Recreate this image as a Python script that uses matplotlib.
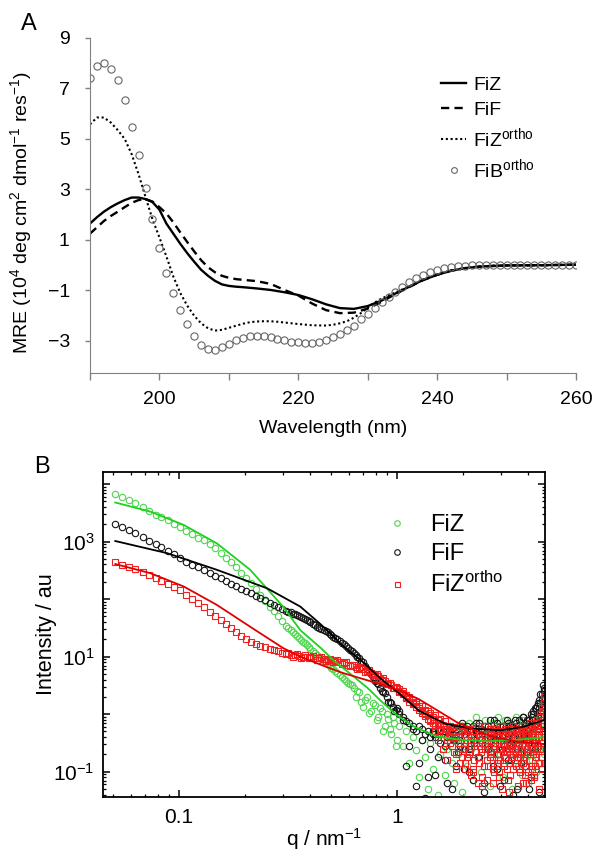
import numpy as np
import matplotlib
matplotlib.use("Agg")
import matplotlib.pyplot as plt
from matplotlib.lines import Line2D
from matplotlib.ticker import LogLocator, NullFormatter

plt.rcParams['font.family'] = ['Liberation Sans', 'DejaVu Sans']
plt.rcParams['mathtext.fontset'] = 'custom'
plt.rcParams['mathtext.rm'] = 'Liberation Sans'
plt.rcParams['mathtext.it'] = 'Liberation Sans:italic'
plt.rcParams['mathtext.bf'] = 'Liberation Sans:bold'

# ---------------- panel A : CD spectra (MRE, 10^4 deg cm2 dmol-1 res-1) ----------------
fiz_wl = [190, 191, 192, 193, 194, 195, 196, 197, 198, 199, 200, 201, 202, 203, 204, 205,
          206, 207, 208, 209, 210, 211, 212, 214, 216, 218, 220, 222, 224, 226, 228, 230,
          232, 234, 236, 238, 240, 242, 244, 246, 248, 250, 255, 260]
fiz_mre = [1.65, 1.90, 2.12, 2.30, 2.45, 2.58, 2.68, 2.68, 2.62, 2.50, 2.20, 1.65, 1.25, 0.85,
           0.48, 0.14, -0.18, -0.42, -0.62, -0.76, -0.82, -0.85, -0.87, -0.92, -0.98, -1.07,
           -1.18, -1.35, -1.55, -1.70, -1.73, -1.62, -1.40, -1.12, -0.85, -0.58, -0.38, -0.22,
           -0.12, -0.06, -0.03, -0.01, 0.0, 0.02]

fif_wl = [190, 191, 192, 193, 194, 195, 196, 197, 198, 199, 200, 201, 202, 203, 204, 205,
          206, 207, 208, 209, 210, 211, 212, 214, 216, 218, 220, 222, 224, 226, 228, 230,
          232, 234, 236, 238, 240, 242, 244, 246, 248, 250, 255, 260]
fif_mre = [1.25, 1.50, 1.75, 1.95, 2.12, 2.30, 2.47, 2.58, 2.62, 2.52, 2.30, 2.05, 1.70, 1.30,
           0.92, 0.55, 0.20, -0.08, -0.28, -0.42, -0.50, -0.55, -0.58, -0.63, -0.74, -0.98,
           -1.20, -1.52, -1.78, -1.90, -1.88, -1.72, -1.45, -1.14, -0.86, -0.59, -0.38, -0.22,
           -0.12, -0.06, -0.03, -0.01, 0.0, 0.02]

fizo_wl = [190, 191, 192, 193, 194, 195, 196, 197, 198, 199, 200, 201, 202, 203, 204, 205,
           206, 207, 208, 209, 210, 211, 212, 213, 214, 215, 216, 217, 218, 219, 220, 222,
           224, 225, 226, 227, 228, 229, 230, 231, 232, 234, 236, 238, 240, 242, 244, 246,
           248, 250, 255, 260]
fizo_mre = [5.58, 5.85, 5.85, 5.65, 5.35, 5.00, 4.40, 3.60, 2.70, 1.82, 1.10, 0.35, -0.45,
            -1.10, -1.60, -2.00, -2.30, -2.50, -2.59, -2.56, -2.48, -2.40, -2.32, -2.26, -2.23,
            -2.22, -2.22, -2.24, -2.27, -2.30, -2.33, -2.38, -2.39, -2.36, -2.30, -2.22, -2.08,
            -1.90, -1.68, -1.48, -1.32, -1.08, -0.84, -0.57, -0.37, -0.21, -0.11, -0.05, -0.02,
            -0.01, 0.0, 0.02]

fib_wl = list(range(190, 261))
fib_mre = [7.42, 7.88, 8.01, 7.79, 7.33, 6.54, 5.49, 4.36, 3.07, 1.85, 0.67, -0.32, -1.12,
           -1.78, -2.31, -2.81, -3.15, -3.30, -3.37, -3.25, -3.11, -2.97, -2.88, -2.81, -2.79,
           -2.81, -2.85, -2.92, -2.97, -3.03, -3.05, -3.08, -3.08, -3.04, -2.97, -2.84, -2.72,
           -2.58, -2.39, -2.15, -1.93, -1.69, -1.46, -1.25, -1.07, -0.85, -0.67, -0.51, -0.39,
           -0.28, -0.19, -0.13, -0.07, -0.04, -0.02, 0.0, 0.01, 0.01, 0.01, 0.02, 0.02, 0.02,
           0.02, 0.02, 0.02, 0.02, 0.02, 0.02, 0.02, 0.02, 0.02]

# ---------------- panel B : SAXS (log10 intensity) ----------------
q_low = [0.051, 0.055, 0.059, 0.063, 0.068, 0.073, 0.078, 0.083, 0.089, 0.095, 0.101, 0.108,
         0.115, 0.122, 0.130, 0.138, 0.146, 0.155, 0.164, 0.173, 0.183, 0.193, 0.203, 0.214,
         0.225, 0.236, 0.248, 0.260, 0.272, 0.285, 0.298]
q_mid = [0.31, 0.325, 0.34, 0.355, 0.37, 0.385, 0.40, 0.42, 0.44, 0.46, 0.48, 0.50, 0.52,
         0.545, 0.57, 0.595, 0.62, 0.645, 0.67, 0.70, 0.73, 0.76, 0.79, 0.82, 0.85, 0.88,
         0.91, 0.94, 0.97, 1.00]
q_mid_b = [0.3175, 0.3325, 0.3475, 0.3625, 0.3775, 0.3925, 0.41, 0.43, 0.45, 0.47, 0.49, 0.51,
           0.5325, 0.5575, 0.5825, 0.6075, 0.6325, 0.6575, 0.685, 0.715, 0.745, 0.775, 0.805,
           0.835, 0.865, 0.895, 0.925, 0.955, 0.985]
q_high = [1.02, 1.06, 1.10, 1.14, 1.18, 1.22, 1.26, 1.30, 1.34, 1.38, 1.42, 1.46, 1.50, 1.54,
          1.58, 1.62, 1.66, 1.70, 1.74, 1.78, 1.82, 1.86, 1.90, 1.94, 1.98, 2.02, 2.06, 2.10,
          2.14, 2.18, 2.22, 2.26, 2.30, 2.34, 2.38, 2.42, 2.46, 2.50, 2.54, 2.58, 2.62, 2.66,
          2.70, 2.74, 2.78, 2.82, 2.86, 2.90, 2.94, 2.98, 3.02, 3.06, 3.10, 3.14, 3.18, 3.22,
          3.26, 3.30, 3.34, 3.38, 3.42, 3.46, 3.50, 3.54, 3.58, 3.62, 3.66, 3.70, 3.74, 3.78,
          3.82, 3.86, 3.90, 3.94, 3.98, 4.02, 4.06, 4.10, 4.14, 4.18, 4.22, 4.26, 4.30, 4.34,
          4.38, 4.42, 4.46, 4.50, 4.54, 4.58, 4.62, 4.66, 4.70, 4.74]

fiz_low = [3.83, 3.77, 3.72, 3.67, 3.60, 3.53, 3.47, 3.42, 3.37, 3.30, 3.25, 3.19, 3.13, 3.07,
           3.02, 2.96, 2.89, 2.81, 2.72, 2.64, 2.55, 2.46, 2.37, 2.28, 2.17, 2.07, 1.97, 1.87,
           1.80, 1.71, 1.62]
fiz_mid = [1.53, 1.46, 1.39, 1.32, 1.26, 1.20, 1.14, 1.07, 1.00, 0.93, 0.87, 0.81, 0.75, 0.68,
           0.62, 0.55, 0.50, 0.30, 0.38, 0.12, 0.30, 0.05, 0.16, -0.05, 0.05, -0.20, -0.08,
           -0.35, -0.15, -0.45]
fiz_mid_b = [1.50, 1.43, 1.36, 1.29, 1.23, 1.17, 1.10, 1.03, 0.96, 0.90, 0.84, 0.78, 0.71, 0.65,
             0.58, 0.52, 0.45, 0.40, 0.22, 0.25, 0.02, 0.20, -0.10, 0.10, -0.30, 0.00, -0.25,
             -0.05, -0.55]
fiz_high = [-0.20, -0.55, -0.30, -0.85, -0.40, -0.62, -1.10, -0.45, -0.75, -1.30, -0.50, -0.95,
            -0.35, -1.40, -0.70, -0.40, -1.05, -0.60, -0.25, -0.85, -1.20, -0.45, -0.70, -0.20,
            -1.35, -0.55, -0.30, -0.90, -0.15, -0.60, -1.15, -0.35, -0.05, -0.75, -0.40, -1.00,
            -0.25, -0.55, -0.10, -0.80, -0.35, -1.25, -0.50, -0.15, -0.65, -0.30, -0.95, -0.05,
            -0.45, -0.70, -0.20, -1.10, -0.40, -0.10, -0.60, -0.30, -0.85, -0.15, -0.50, -1.30,
            -0.25, -0.70, -0.05, -0.45, -0.90, -0.20, -0.60, -0.35, -1.05, -0.10, -0.50, -0.75,
            -0.25, -0.40, -1.20, -0.15, -0.55, -0.30, -0.80, -0.05, -0.45, -0.65, -0.20, -1.00,
            -0.35, -0.10, -0.60, -0.25, -0.85, -0.15, -0.45, -0.05, -0.70, -0.30]

fif_low = [3.31, 3.25, 3.20, 3.15, 3.08, 3.01, 2.95, 2.90, 2.84, 2.78, 2.71, 2.65, 2.60, 2.56,
           2.50, 2.45, 2.41, 2.36, 2.31, 2.27, 2.22, 2.18, 2.14, 2.10, 2.06, 2.02, 1.98, 1.94,
           1.90, 1.86, 1.83]
fif_mid = [1.80, 1.77, 1.74, 1.71, 1.68, 1.64, 1.60, 1.55, 1.50, 1.46, 1.42, 1.37, 1.33, 1.27,
           1.22, 1.15, 1.10, 1.03, 0.97, 0.90, 0.78, 0.70, 0.58, 0.52, 0.40, 0.36, 0.22, 0.20,
           0.05, 0.10]
fif_mid_b = [1.78, 1.75, 1.72, 1.69, 1.66, 1.62, 1.57, 1.52, 1.48, 1.44, 1.39, 1.35, 1.30, 1.24,
             1.18, 1.12, 1.06, 1.00, 0.93, 0.84, 0.74, 0.64, 0.55, 0.46, 0.38, 0.29, 0.21, 0.12,
             0.07]
fif_high = [0.00, -0.10, -0.90, -0.15, -0.25, -1.25, -0.20, -0.45, -1.45, -0.30, -0.60, -0.35,
            -1.05, -0.25, -0.50, -0.30, -0.80, -0.40, -0.20, -1.30, -0.45, -0.25, -0.65, -0.35,
            -0.15, -0.95, -0.40, -0.20, -0.60, -0.30, -1.15, -0.45, -0.15, -0.35, -0.75, -0.25,
            -0.50, -1.35, -0.20, -0.40, -0.60, -0.10, -0.35, -0.90, -0.25, -0.45, -0.15, -0.70,
            -0.30, -1.25, -0.40, -0.20, -0.55, -0.30, -0.10, -0.80, -0.35, -0.20, -0.50, -0.25,
            -1.40, -0.40, -0.15, -0.60, -0.30, -0.10, -0.45, -0.85, -0.25, -0.05, -0.40, -0.20,
            -0.65, -0.10, -0.30, -1.30, -0.15, 0.00, -0.35, -0.10, 0.05, -0.50, 0.10, -0.15,
            0.15, -0.05, 0.25, -1.35, 0.20, 0.05, 0.35, 0.15, 0.45, 0.30]
fif_high_b = [0.05, -0.05, -0.12, -0.55, -0.20, -0.30, -0.85, -0.25, -0.35, -1.10, -0.40, -0.30,
              -0.40, -0.75, -0.30, -0.20, -0.55, -1.20, -0.35, -0.25, -0.45, -0.90, -0.30, -0.55,
              -0.20, -0.35, -0.60, -0.25, -1.00, -0.40, -0.20, -0.50, -0.30, -0.75, -0.15, -0.45,
              -0.30, -1.20, -0.35, -0.55, -0.20, -0.40, -0.65, -0.25, -0.10, -0.50, -0.95, -0.30,
              -0.40, -0.20, -0.60, -0.35, -1.15, -0.25, -0.45, -0.15, -0.55, -0.30, -0.80, -0.20,
              -0.40, -0.10, -0.50, -1.30, -0.30, -0.20, -0.45, -0.65, -0.25, -0.05, -0.35, -0.90,
              -0.15, -0.30, -0.50, -0.10, -0.25, -1.10, -0.05, -0.35, 0.00, -0.20, -0.60, 0.10,
              -0.10, 0.20, -0.25, 0.10, 0.35, -0.05, 0.25, 0.50, 0.15, 0.40]

fizo_low = [2.64, 2.60, 2.56, 2.52, 2.47, 2.42, 2.37, 2.32, 2.27, 2.21, 2.15, 2.08, 2.01, 1.94,
            1.86, 1.78, 1.70, 1.63, 1.56, 1.49, 1.43, 1.36, 1.31, 1.26, 1.22, 1.19, 1.16, 1.13,
            1.11, 1.09, 1.07]
fizo_mid = [1.05, 1.03, 1.02, 1.01, 1.00, 1.00, 0.99, 0.98, 0.97, 0.96, 0.95, 0.94, 0.92, 0.90,
            0.89, 0.86, 0.85, 0.82, 0.80, 0.78, 0.75, 0.72, 0.68, 0.66, 0.60, 0.58, 0.52, 0.50,
            0.45, 0.46]
fizo_mid_b = [1.07, 1.00, 1.04, 0.98, 1.02, 0.97, 1.01, 0.95, 0.99, 0.93, 0.96, 0.91, 0.94,
              0.87, 0.90, 0.83, 0.86, 0.79, 0.82, 0.74, 0.76, 0.68, 0.70, 0.61, 0.63, 0.53,
              0.55, 0.45, 0.47]
fizo_high_a = [0.44, 0.40, 0.33, 0.30, 0.24, 0.22, 0.15, 0.14, 0.08, 0.05, 0.02, -0.05, -0.02,
               -0.10, -0.08, -0.18, -0.12, -0.25, -0.20, -0.30, -0.22, -0.40, -0.28, -0.50,
               -0.30, -0.60, -0.35, -0.75, -0.25, -0.55, -0.95, -0.40, -0.65, -0.20, -0.85,
               -0.45, -1.10, -0.30, -0.60, -0.45, -0.90, -0.25, -0.70, -1.20, -0.40, -0.55,
               -0.30, -0.80, -1.00, -0.45, -0.20, -0.65, -0.90, -0.35, -0.55, -1.15, -0.40,
               -0.70, -0.25, -0.60, -0.95, -0.45, -0.30, -0.75, -1.25, -0.50, -0.35, -0.65,
               -0.20, -0.85, -0.45, -1.05, -0.30, -0.60, -0.40, -0.80, -0.25, -1.15, -0.50,
               -0.35, -0.70, -0.20, -0.90, -0.45, -0.60, -0.15, -1.30, -0.40, -0.05, -0.75,
               0.10, -0.50, 0.20, -0.85]
fizo_high_b = [0.38, 0.35, 0.30, 0.22, 0.20, 0.12, 0.10, 0.02, 0.00, -0.08, -0.10, -0.15, -0.20,
               -0.18, -0.28, -0.35, -0.25, -0.45, -0.38, -0.55, -0.42, -0.70, -0.50, -0.85,
               -0.60, -0.25, -0.95, -0.45, -0.70, -1.05, -0.30, -0.80, -0.50, -1.20, -0.35,
               -0.65, -0.40, -0.90, -0.20, -1.15, -0.55, -0.75, -0.35, -0.50, -1.00, -0.25,
               -0.85, -0.40, -0.60, -0.80, -1.30, -0.35, -0.50, -0.75, -0.95, -0.30, -0.60,
               -1.05, -0.55, -0.35, -0.70, -0.85, -0.55, -0.30, -0.60, -0.95, -0.75, -0.25,
               -0.55, -1.20, -0.70, -0.35, -0.90, -0.45, -1.00, -0.30, -0.65, -0.55, -0.95,
               -0.25, -0.45, -1.10, -0.35, -0.75, -0.10, -0.55, -0.30, -0.85, -0.60, -0.20,
               -0.95, 0.05, -0.40, 0.25]
fizo_high_c = [0.41, 0.37, 0.28, 0.27, 0.18, 0.17, 0.08, 0.06, -0.03, -0.02, -0.12, -0.08,
               -0.30, -0.45, -0.15, -0.60, -0.35, -0.80, -0.50, -0.30, -0.65, -0.95, -0.40,
               -0.20, -0.75, -0.50, -0.85, -0.30, -0.65, -0.45, -1.00, -0.55, -0.20, -0.75,
               -0.40, -0.60, -1.25, -0.35, -0.50, -0.80, -0.30, -0.65, -0.45, -0.95, -0.20,
               -0.55, -0.70, -0.40, -1.10, -0.60, -0.30, -0.50, -0.85, -0.25, -0.65, -0.45,
               -1.35, -0.55, -0.35, -0.75, -0.20, -0.60, -0.90, -0.40, -0.50, -0.30, -1.00,
               -0.70, -0.45, -0.25, -0.80, -0.55, -1.20, -0.35, -0.65, -0.50, -0.15, -0.90,
               -0.40, -0.60, -0.30, -1.05, -0.45, -0.70, -0.20, -0.55, -0.35, -0.85, 0.00,
               -0.50, 0.15, -0.30, 0.30, -0.10]

# model fits
fiz_fit_q = [0.051, 0.074, 0.105, 0.149, 0.212, 0.30, 0.36, 0.45, 0.51, 0.62, 0.73, 0.86, 1.0,
             1.2, 1.5, 2.0, 2.6, 3.4, 4.2, 4.74]
fiz_fit = [3.68, 3.52, 3.29, 2.97, 2.51, 1.87, 1.46, 1.14, 0.94, 0.68, 0.46, 0.20, -0.02,
           -0.22, -0.38, -0.45, -0.47, -0.45, -0.42, -0.40]
fif_fit_q = [0.051, 0.088, 0.149, 0.253, 0.36, 0.45, 0.56, 0.70, 0.84, 1.03, 1.26, 1.67, 2.2,
             3.0, 3.8, 4.74]
fif_fit = [3.01, 2.80, 2.51, 2.19, 1.87, 1.55, 1.20, 0.90, 0.62, 0.35, 0.06, -0.17, -0.25,
           -0.28, -0.22, -0.10]
fizo_fit_q = [0.051, 0.074, 0.105, 0.149, 0.212, 0.30, 0.36, 0.46, 0.56, 0.70, 0.84, 1.03,
              1.26, 1.54, 1.88, 2.3, 2.8, 3.6, 4.74]
fizo_fit = [2.61, 2.45, 2.22, 1.90, 1.52, 1.15, 1.00, 0.84, 0.72, 0.61, 0.52, 0.41, 0.26, 0.06,
            -0.14, -0.29, -0.40, -0.48, -0.52]

q_all = q_low + q_mid + q_mid_b + q_high

fig = plt.figure(figsize=(5.97, 8.56), dpi=100)

# ---------------- A ----------------
axA = fig.add_axes([90 / 597, 1 - 373 / 856, 486 / 597, 335 / 856])
grey = '#808080'
lA1, = axA.plot(fiz_wl, fiz_mre, color='black', lw=1.7)
lA2, = axA.plot(fif_wl, fif_mre, color='black', lw=1.7, ls=(0, (3.5, 2.2)))
lA3, = axA.plot(fizo_wl, fizo_mre, color='black', lw=1.5, ls=(0, (1, 1.3)))
lA4, = axA.plot(fib_wl, fib_mre, 'o', mfc='none', mec='#666666', ms=5.2, mew=0.8)
axA.set_xlim(190, 260)
axA.set_ylim(-4.27, 9)
for s in ['top', 'right']:
    axA.spines[s].set_visible(False)
for s in ['left', 'bottom']:
    axA.spines[s].set_color(grey)
axA.set_xticks(range(190, 261, 10))
axA.set_xticklabels(['', '200', '', '220', '', '240', '', '260'])
axA.set_yticks([-3, -1, 1, 3, 5, 7, 9])
axA.tick_params(axis='x', direction='out', length=5, width=1, color=grey, labelsize=14, pad=8)
axA.tick_params(axis='y', direction='out', length=3.5, width=1, color=grey, labelsize=14, pad=11)
axA.set_xlabel('Wavelength (nm)', fontsize=14)
axA.xaxis.set_label_coords(0.5, -0.14)
axA.set_ylabel('MRE (10$^{4}$ deg cm$^{2}$ dmol$^{-1}$ res$^{-1}$)', fontsize=14)
axA.yaxis.set_label_coords(-0.115, 0.48)
axA.legend([lA1, lA2, lA3, lA4],
           ['FiZ', 'FiF', r'FiZ$^{\rm ortho}$', r'FiB$^{\rm ortho}$'],
           loc='upper left', bbox_to_anchor=(441 / 597, 1 - 76 / 856),
           bbox_transform=fig.transFigure, frameon=False, fontsize=14,
           handlelength=1.3, handletextpad=0.35, labelspacing=0.38, borderpad=0,
           borderaxespad=0, markerscale=0.8)

fig.text(29 / 597, 1 - 24 / 856, 'A', fontsize=17, ha='center', va='center')
fig.text(42 / 597, 1 - 467 / 856, 'B', fontsize=17, ha='center', va='center')

# ---------------- B ----------------
axB = fig.add_axes([103 / 597, 1 - 797 / 856, 442 / 597, 325 / 856])
axB.set_xscale('log')
axB.set_yscale('log')

green_pts = '#4fd64f'
green_line = '#1fd11f'
red_pts = '#f02020'
red_line = '#e00000'
mk = dict(mfc='none', mew=0.8, ls='none')

axB.plot(q_all, 10 ** np.array(fiz_low + fiz_mid + fiz_mid_b + fiz_high), 'o', mec=green_pts,
         ms=4.6, **mk)
axB.plot(q_all, 10 ** np.array(fif_low + fif_mid + fif_mid_b + fif_high), 'o', mec='#151515',
         ms=4.6, **mk)
axB.plot(q_high, 10 ** np.array(fif_high_b), 'o', mec='#151515', ms=4.6, **mk)
axB.plot(q_all, 10 ** np.array(fizo_low + fizo_mid + fizo_mid_b + fizo_high_a), 's',
         mec=red_pts, ms=4.2, **mk)
axB.plot(q_high, 10 ** np.array(fizo_high_b), 's', mec=red_pts, ms=4.2, **mk)
axB.plot(q_high, 10 ** np.array(fizo_high_c), 's', mec=red_pts, ms=4.2, **mk)

axB.plot(fiz_fit_q, 10 ** np.array(fiz_fit), color=green_line, lw=1.3)
axB.plot(fif_fit_q, 10 ** np.array(fif_fit), color='black', lw=1.3)
axB.plot(fizo_fit_q, 10 ** np.array(fizo_fit), color=red_line, lw=1.3)

axB.set_xlim(0.0448, 4.77)
axB.set_ylim(10 ** -1.44, 10 ** 4.21)
axB.set_xticks([0.1, 1])
axB.set_xticklabels(['0.1', '1'])
axB.set_yticks([1e-1, 1e0, 1e1, 1e2, 1e3, 1e4])
axB.set_yticklabels([r'$10^{-1}$', '', r'$10^{1}$', '', r'$10^{3}$', ''])
axB.xaxis.set_minor_locator(LogLocator(base=10, subs=np.arange(2, 10), numticks=20))
axB.yaxis.set_minor_locator(LogLocator(base=10, subs=np.arange(2, 10), numticks=20))
axB.xaxis.set_minor_formatter(NullFormatter())
axB.yaxis.set_minor_formatter(NullFormatter())
axB.tick_params(which='both', direction='in', top=True, right=True, color='black')
axB.tick_params(which='major', length=5, width=1.1, labelsize=15)
axB.tick_params(which='minor', length=2.5, width=0.9)
axB.tick_params(axis='x', which='major', pad=8)
axB.tick_params(axis='y', which='major', pad=6)
for s in axB.spines.values():
    s.set_linewidth(1.3)
axB.set_xlabel('q / nm$^{-1}$', fontsize=15)
axB.xaxis.set_label_coords(0.5, -0.09)
axB.set_ylabel('Intensity / au', fontsize=15.5)
axB.yaxis.set_label_coords(-0.105, 0.5)

hB = [Line2D([], [], ls='none', marker='o', mfc='none', mec=green_pts, ms=4, mew=0.8),
      Line2D([], [], ls='none', marker='o', mfc='none', mec='#151515', ms=4, mew=0.8),
      Line2D([], [], ls='none', marker='s', mfc='none', mec=red_pts, ms=3.6, mew=0.8)]
axB.legend(hB, ['FiZ', 'FiF', r'FiZ$^{\rm ortho}$'], loc='upper left',
           bbox_to_anchor=(388 / 597, 1 - 514 / 856), bbox_transform=fig.transFigure,
           frameon=False, fontsize=17, handlelength=0.8, handletextpad=1.0,
           labelspacing=0.3, borderpad=0, borderaxespad=0)

fig.savefig('out.png', dpi=100)
